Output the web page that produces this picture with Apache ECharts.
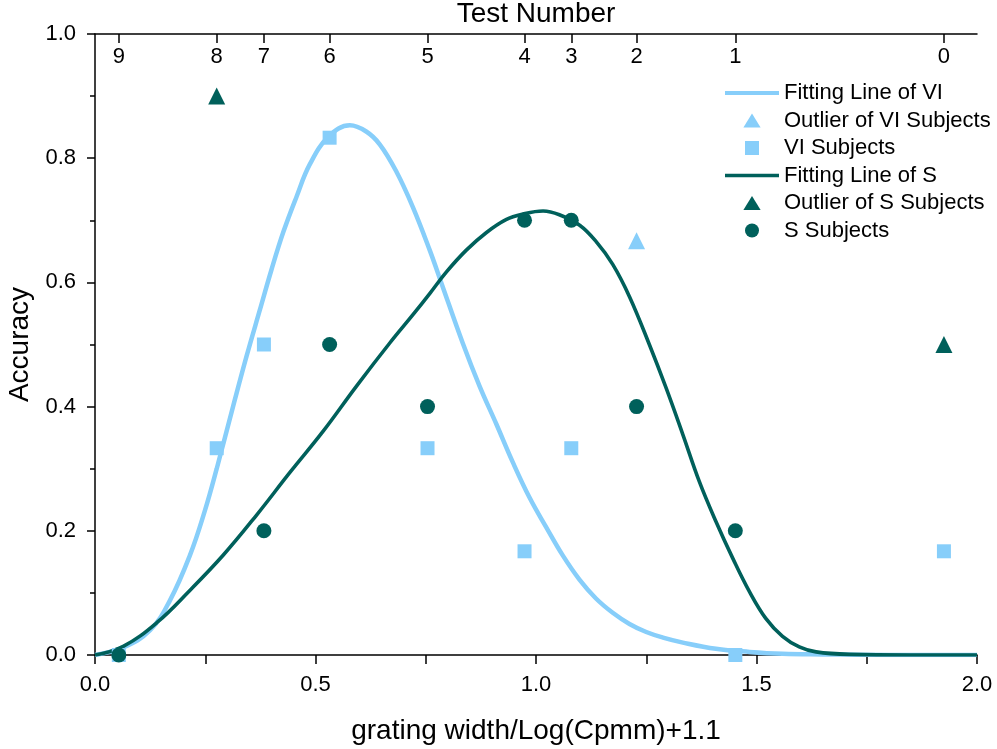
<!DOCTYPE html>
<html>
<head>
<meta charset="utf-8">
<script src="https://cdn.jsdelivr.net/npm/echarts@6/dist/echarts.min.js"></script>
<style>
html,body{margin:0;padding:0;background:#fff;}
#chart{width:997px;height:749px;}
</style>
</head>
<body>
<div id="chart"></div>
<script>
// ---- data ----
const testNumbers = [9, 8, 7, 6, 5, 4, 3, 2, 1, 0];
const testPositions = [0.054, 0.276, 0.383, 0.532, 0.754, 0.974, 1.080, 1.228, 1.452, 1.925];

const viSubjectsX = [0.054, 0.276, 0.383, 0.532, 0.754, 0.974, 1.080, 1.452, 1.925];
const viSubjectsY = [0, 0.333, 0.5, 0.833, 0.333, 0.167, 0.333, 0, 0.167];
const viOutlierX = [1.228];
const viOutlierY = [0.667];

const sSubjectsX = [0.054, 0.383, 0.532, 0.754, 0.974, 1.080, 1.228, 1.452];
const sSubjectsY = [0, 0.2, 0.5, 0.4, 0.7, 0.7, 0.4, 0.2];
const sOutlierX = [0.276, 1.925];
const sOutlierY = [0.9, 0.5];

const viFitX = [0, 0.064, 0.125, 0.170, 0.215, 0.249, 0.276, 0.313, 0.344, 0.374, 0.400, 0.427, 0.457, 0.487, 0.530, 0.578, 0.615, 0.646, 0.683, 0.721, 0.759, 0.785, 0.834, 0.872, 0.910, 0.947, 0.985, 1.023, 1.061, 1.099, 1.136, 1.174, 1.212, 1.250, 1.288, 1.333, 1.408, 1.484, 1.559, 1.650, 1.800, 2.000];
const viFitY = [0, 0.012, 0.040, 0.088, 0.160, 0.232, 0.300, 0.400, 0.482, 0.556, 0.620, 0.681, 0.738, 0.790, 0.835, 0.853, 0.843, 0.822, 0.779, 0.721, 0.652, 0.600, 0.502, 0.433, 0.372, 0.311, 0.254, 0.206, 0.160, 0.121, 0.091, 0.068, 0.050, 0.037, 0.028, 0.020, 0.010, 0.005, 0.002, 0.001, 0, 0];

const sFitX = [0, 0.064, 0.140, 0.215, 0.291, 0.366, 0.442, 0.517, 0.593, 0.668, 0.721, 0.759, 0.797, 0.842, 0.887, 0.932, 0.970, 1.016, 1.053, 1.099, 1.136, 1.174, 1.212, 1.257, 1.295, 1.333, 1.370, 1.408, 1.446, 1.484, 1.521, 1.559, 1.597, 1.635, 1.710, 1.850, 2.000];
const sFitY = [0, 0.014, 0.052, 0.104, 0.161, 0.225, 0.294, 0.360, 0.433, 0.502, 0.548, 0.582, 0.617, 0.652, 0.680, 0.701, 0.710, 0.715, 0.709, 0.692, 0.666, 0.629, 0.577, 0.500, 0.430, 0.355, 0.280, 0.215, 0.156, 0.102, 0.059, 0.030, 0.013, 0.005, 0.001, 0, 0];

const seriesNames = ['Fitting Line of VI', 'Outlier of VI Subjects', 'VI Subjects', 'Fitting Line of S', 'Outlier of S Subjects', 'S Subjects'];

// ---- styles ----
const VI_COLOR = '#87CEFA';
const S_COLOR = '#00605B';
const FONT = 'Liberation Sans, Arial, sans-serif';

const zip = (xs, ys) => xs.map((x, i) => [x, ys[i]]);

const chart = echarts.init(document.getElementById('chart'), null, {renderer: 'canvas'});

const axisCommon = {
  axisLine: {show: true, lineStyle: {color: '#000', width: 1.5}},
  splitLine: {show: false},
};

const lineIconVI = 'path://M0,0L54,0L54,4L0,4Z';
const lineIconS = 'path://M0,0L54,0L54,3.6L0,3.6Z';
const triIcon = 'path://M8,0L16,13L0,13Z';
const sqIcon = 'path://M0,0L13,0L13,13L0,13Z';

chart.setOption({
  animation: false,
  backgroundColor: '#fff',
  textStyle: {fontFamily: FONT},
  grid: {left: 95, right: 20, top: 34, bottom: 94, containLabel: false, outerBoundsMode: 'none'},
  legend: {
    left: 720, top: 77, orient: 'vertical',
    itemWidth: 54, itemHeight: 14, itemGap: 5.5,
    symbolKeepAspect: true,
    textStyle: {fontSize: 22, color: '#000', fontFamily: FONT},
    data: [
      {name: seriesNames[0], icon: lineIconVI},
      {name: seriesNames[1], icon: triIcon},
      {name: seriesNames[2], icon: sqIcon},
      {name: seriesNames[3], icon: lineIconS},
      {name: seriesNames[4], icon: triIcon},
      {name: seriesNames[5], icon: 'circle'}
    ]
  },
  xAxis: [
    Object.assign({
      type: 'value', position: 'bottom', min: 0, max: 2, interval: 0.5,
      name: 'grating width/Log(Cpmm)+1.1', nameLocation: 'middle', nameGap: 62,
      nameTextStyle: {fontSize: 28, color: '#000', fontFamily: FONT},
      axisTick: {show: true, length: 9, lineStyle: {color: '#000', width: 1.5}},
      minorTick: {show: true, splitNumber: 2, length: 9, lineStyle: {color: '#000', width: 1.5}},
      axisLabel: {fontSize: 22, color: '#000', margin: 19, formatter: v => v.toFixed(1), fontFamily: FONT}
    }, axisCommon),
    Object.assign({
      type: 'value', position: 'top', min: 0, max: 2,
      name: 'Test Number', nameLocation: 'middle', nameGap: 6,
      nameTextStyle: {fontSize: 28, color: '#000', fontFamily: FONT},
      axisTick: {show: true, inside: true, length: 9, customValues: testPositions, lineStyle: {color: '#000', width: 1.5}},
      axisLabel: {
        show: true, inside: true, fontSize: 22, color: '#000', margin: 12, fontFamily: FONT,
        customValues: testPositions,
        formatter: v => {
          const i = testPositions.findIndex(p => Math.abs(p - v) < 1e-6);
          return i >= 0 ? String(testNumbers[i]) : '';
        }
      }
    }, axisCommon)
  ],
  yAxis: Object.assign({
    type: 'value', min: 0, max: 1, interval: 0.2,
    name: 'Accuracy', nameLocation: 'middle', nameGap: 60,
    nameTextStyle: {fontSize: 28, color: '#000', fontFamily: FONT},
    axisTick: {show: true, length: 8, lineStyle: {color: '#000', width: 1.5}},
    minorTick: {show: true, splitNumber: 2, length: 5, lineStyle: {color: '#000', width: 1.5}},
    axisLabel: {fontSize: 22, color: '#000', margin: 19, formatter: v => v.toFixed(1), fontFamily: FONT}
  }, axisCommon),
  series: [
    {
      name: seriesNames[0], type: 'line', xAxisIndex: 0, data: zip(viFitX, viFitY),
      showSymbol: false, symbol: 'none', smooth: 0.4,
      lineStyle: {color: VI_COLOR, width: 4.5, opacity: 1}, itemStyle: {color: VI_COLOR}, z: 2
    },
    {
      name: seriesNames[3], type: 'line', xAxisIndex: 0, data: zip(sFitX, sFitY),
      showSymbol: false, symbol: 'none', smooth: 0.4,
      lineStyle: {color: S_COLOR, width: 3.6, opacity: 1}, itemStyle: {color: S_COLOR}, z: 2
    },
    {
      name: seriesNames[1], type: 'scatter', data: zip(viOutlierX, viOutlierY),
      symbol: 'triangle', symbolSize: 17, itemStyle: {color: VI_COLOR, opacity: 1}, z: 3
    },
    {
      name: seriesNames[2], type: 'scatter', data: zip(viSubjectsX, viSubjectsY),
      symbol: 'rect', symbolSize: 14, itemStyle: {color: VI_COLOR, opacity: 1}, z: 3
    },
    {
      name: seriesNames[4], type: 'scatter', data: zip(sOutlierX, sOutlierY),
      symbol: 'triangle', symbolSize: 17, itemStyle: {color: S_COLOR, opacity: 1}, z: 4
    },
    {
      name: seriesNames[5], type: 'scatter', data: zip(sSubjectsX, sSubjectsY),
      symbol: 'circle', symbolSize: 15, itemStyle: {color: S_COLOR, opacity: 1}, z: 4
    }
  ]
});
</script>
</body>
</html>
